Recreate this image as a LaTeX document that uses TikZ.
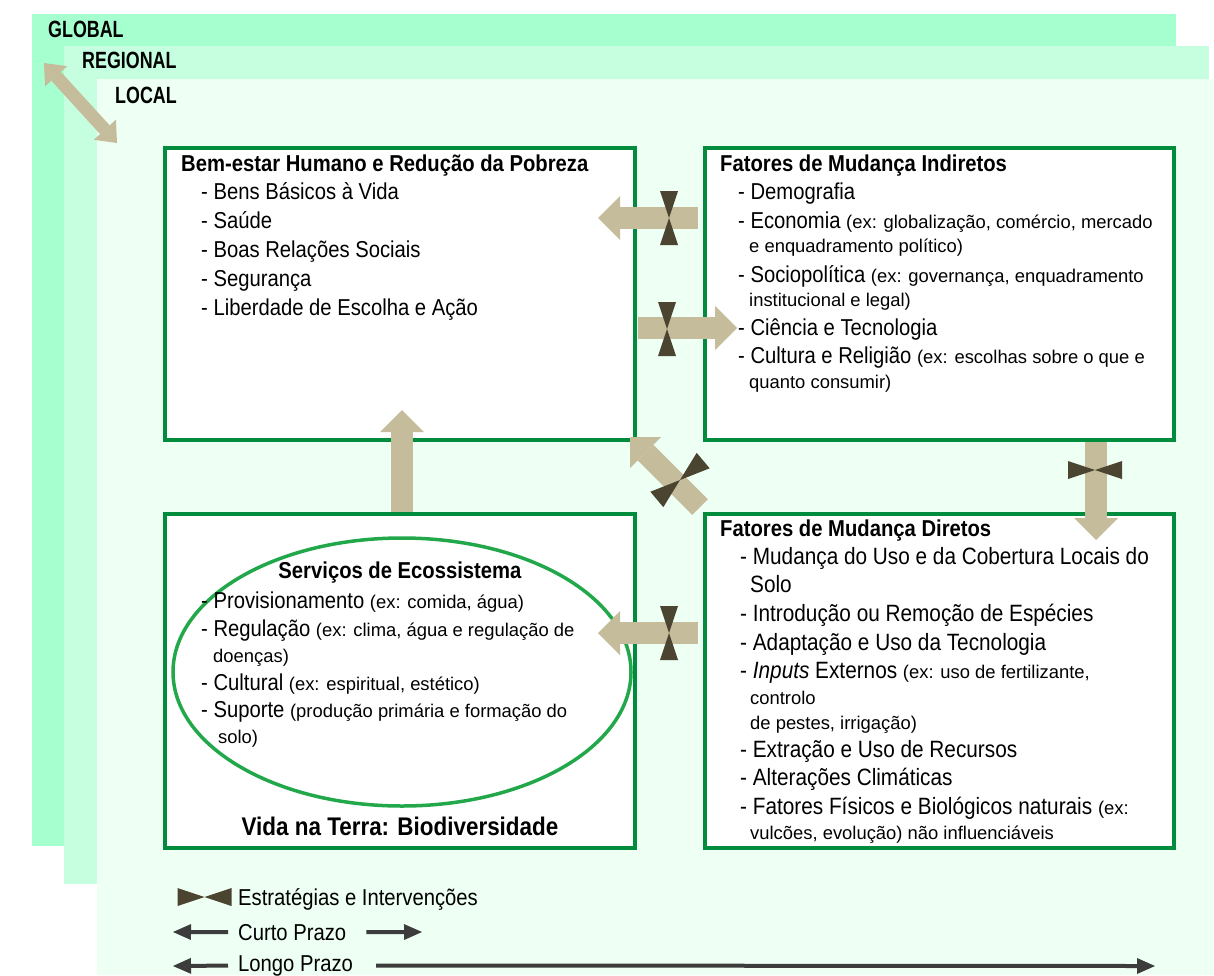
\documentclass[tikz,border=0pt]{standalone}
\usepackage{fontspec}
\setmainfont{Liberation Sans}
\newfontfamily\cnd[FakeStretch=0.88]{Liberation Sans}
\newfontfamily\lvl[FakeStretch=0.76]{Liberation Sans}
\usepackage{tikz}
\usetikzlibrary{arrows.meta,shapes.geometric,positioning}
\definecolor{globalcol}{HTML}{A6FFCF}
\definecolor{regioncol}{HTML}{C6FFE0}
\definecolor{localcol}{HTML}{EEFFF4}
\definecolor{boxgreen}{HTML}{008C3C}
\definecolor{ellgreen}{HTML}{22A84A}
\definecolor{sandcol}{HTML}{C4BC9A}
\definecolor{valvecol}{HTML}{4A4430}
\definecolor{legendcol}{HTML}{3C3C3C}
\newcommand{\smalltxt}[1]{{\normalfont\fontsize{18.4}{21}\selectfont #1}}
\tikzset{valve/.pic={\fill[valvecol] (-27,-9) -- (-27,9) -- (0,0) -- (27,9) -- (27,-9) -- (0,0) -- cycle;}}

\begin{document}
\begin{tikzpicture}[x=1pt,y=-1pt,
  panel/.style={draw=boxgreen, line width=4pt, fill=white, inner sep=0pt, outer sep=0pt},
  entry/.style={anchor=base west, inner sep=0pt, font=\cnd\fontsize{23}{26}\selectfont},
  bigentry/.style={entry, font=\cnd\fontsize{23.6}{26}\selectfont},
  heading/.style={entry, font=\cnd\bfseries\fontsize{23}{26}\selectfont},
  level/.style={anchor=base west, inner sep=0pt, font=\lvl\bfseries\fontsize{23.5}{26}\selectfont},
  fatarrow/.style={draw=sandcol, line width=22pt, -{Triangle[width=44pt,length=22pt,line width=0pt]}},
  tarrow/.style={draw=legendcol, line width=4pt, -{Triangle[width=16pt,length=18pt,line width=0pt]}}]
\newcommand{\boxwd}{470}
\useasboundingbox (0,0) rectangle (1214,975);
%% the three scales
\fill[globalcol] (32,14) rectangle (1176,846);
\fill[regioncol] (64,46) rectangle (1209,884);
\fill[localcol] (97,79) rectangle (1214,975);
\node[level] (glob) at (48,37) {GLOBAL};
\node[level] (reg) at (82,68) {REGIONAL};
\node[level] (loc) at (115,103) {LOCAL};
\coordinate (scaletop) at (44,63);
\coordinate (scalebot) at (117,143);
\draw[draw=sandcol, line width=13pt, {Triangle[width=30pt,length=18pt,line width=0pt]}-{Triangle[width=30pt,length=18pt,line width=0pt]}] (scaletop) -- (scalebot);

%% boxes
\node[panel, minimum width=\boxwd pt, minimum height=292pt] (well) at (400,294) {};
\node[panel, minimum width=469pt, minimum height=292pt] (indir) at (939.5,294) {};
\node[panel, minimum width=\boxwd pt, minimum height=334pt] (life) at (400,681) {};
\node[panel, minimum width=469pt, minimum height=334pt] (direct) at (939.5,681) {};
\node[draw=ellgreen, line width=3.5pt, ellipse, minimum width=458pt, minimum height=268pt] (eco) at (402,672) {};

\node[heading] (wellt) at (181,171) {Bem-estar Humano e Redução da Pobreza};
\foreach \txt [count=\i] in {Bens Básicos à Vida, Saúde, Boas Relações Sociais, Segurança, Liberdade de Escolha e Ação}
  \node[entry] (w\i) at (201,{170+29*\i}) {- \txt};

\node[heading] (indirt) at (720,171) {Fatores de Mudança Indiretos};
\foreach \x/\y/\txt [count=\i] in {738/199/{- Demografia},
  738/228/{- Economia \smalltxt{(ex: globalização, comércio, mercado}},
  749/252/{\smalltxt{e enquadramento político)}},
  738/282/{- Sociopolítica \smalltxt{(ex: governança, enquadramento}},
  749/306/{\smalltxt{institucional e legal)}},
  738/335/{- Ciência e Tecnologia},
  738/363/{- Cultura e Religião \smalltxt{(ex: escolhas sobre o que e}},
  749/388/{\smalltxt{quanto consumir)}}}
  \node[entry] (ind\i) at (\x,\y) {\txt};

\node[heading] (directt) at (720,536) {Fatores de Mudança Diretos};
\foreach \x/\y/\txt [count=\i] in {740/564/{- Mudança do Uso e da Cobertura Locais do},
  750/592/{Solo},
  740/621/{- Introdução ou Remoção de Espécies},
  740/650/{- Adaptação e Uso da Tecnologia},
  740/678/{- \textit{Inputs} Externos \smalltxt{(ex: uso de fertilizante,}},
  750/704/{\smalltxt{controlo}},
  750/729/{\smalltxt{de pestes, irrigação)}},
  740/757/{- Extração e Uso de Recursos},
  740/785/{- Alterações Climáticas},
  740/814/{- Fatores Físicos e Biológicos naturais \smalltxt{(ex:}},
  750/839/{\smalltxt{vulcões, evolução) não influenciáveis}}}
  \node[bigentry] (dir\i) at (\x,\y) {\txt};

\node[heading, anchor=base] (ecot) at (400,578) {Serviços de Ecossistema};
\foreach \x/\y/\txt [count=\i] in {201/608/{- Provisionamento \smalltxt{(ex: comida, água)}},
  201/636/{- Regulação \smalltxt{(ex: clima, água e regulação de}},
  213/662/{\smalltxt{doenças)}},
  201/690/{- Cultural \smalltxt{(ex: espiritual, estético)}},
  201/717/{- Suporte \smalltxt{(produção primária e formação do}},
  218/743/{\smalltxt{solo)}}}
  \node[entry] (eco\i) at (\x,\y) {\txt};
\node[heading, anchor=base, font=\cnd\bfseries\fontsize{25.5}{28}\selectfont] (bio) at (400,835) {Vida na Terra: Biodiversidade};

%% links between the boxes
\coordinate (a1) at (698,218);  \coordinate (b1) at (598,218);
\coordinate (a2) at (638,328);  \coordinate (b2) at (737,328);
\coordinate (a3) at (698,633);  \coordinate (b3) at (598,633);
\coordinate (a4) at (402,512);  \coordinate (b4) at (402,410);
\coordinate (a5) at (700,507);  \coordinate (b5) at (630,437);
\coordinate (a6) at (1096,442); \coordinate (b6) at (1096,540);
\foreach \i in {1,...,6}
  \draw[fatarrow] (a\i) -- (b\i);
\pic[rotate=90] at (669,218) {valve};
\pic[rotate=90] at (667,329) {valve};
\pic[rotate=90] at (669,633) {valve};
\pic at (1095,470) {valve};
\pic[rotate=40, scale=1.12] at (680,480) {valve};

%% legend
\pic at (204.5,897) {valve};
\node[entry] (strat) at (238,905) {Estratégias e Intervenções};
\node[entry] (curto) at (238,940) {Curto Prazo};
\node[entry] (longo) at (238,971) {Longo Prazo};
\coordinate (curtol) at (173,932);  \coordinate (curtor) at (422,932);
\coordinate (longol) at (173,966);  \coordinate (longor) at (1155,966);
\draw[tarrow, shorten <=10pt] (curto.west) -- (curtol);
\draw[tarrow, shorten <=20pt] (curto.east) -- (curtor);
\draw[tarrow, shorten <=10pt] (longo.west) -- (longol);
\draw[tarrow, shorten <=23pt] (longo.east) -- (longor);
\end{tikzpicture}
\end{document}
